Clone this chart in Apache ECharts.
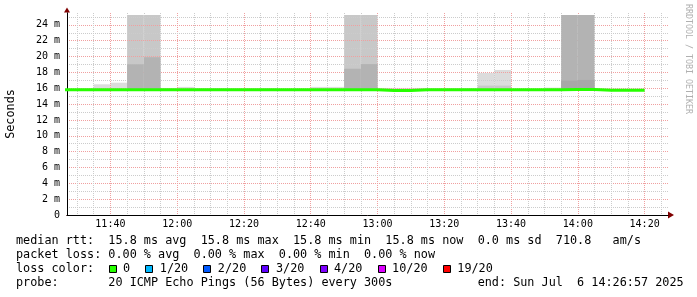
<!DOCTYPE html>
<html><head><meta charset="utf-8">
<script src="https://cdn.jsdelivr.net/npm/echarts@6/dist/echarts.min.js"></script>
<style>html,body{margin:0;padding:0;background:#fff}#c{width:697px;height:297px}</style>
</head><body><div id="c"></div>
<script>
// ---- data ----
const stepTimes = ['11:25','11:30','11:35','11:40','11:45','11:50','11:55',
  '12:00','12:05','12:10','12:15','12:20','12:25','12:30','12:35','12:40','12:45','12:50','12:55',
  '13:00','13:05','13:10','13:15','13:20','13:25','13:30','13:35','13:40','13:45','13:50','13:55',
  '14:00','14:05','14:10','14:15'];
const medianRtt = [15.8,15.8,15.8,15.8,15.8,15.8,15.8,
  15.8,15.8,15.8,15.8,15.8,15.8,15.8,15.8,15.8,15.8,15.8,15.8,
  15.72,15.72,15.8,15.8,15.8,15.8,15.8,15.8,15.8,15.8,15.8,15.85,
  15.85,15.75,15.75,15.75];
const smokeLight = [null,16.0,16.5,16.7,null,null,16.04,
  16.17,15.98,15.98,15.98,15.98,15.98,null,null,16.17,16.17,null,null,
  16.04,16.04,16.04,15.98,15.98,15.98,17.94,18.31,null,null,16.08,null,
  null,15.95,15.95,15.95];
const smokeMid = [null,null,null,null,25.25,25.25,null,
  null,null,null,null,null,null,null,null,null,null,25.25,25.25,
  null,null,null,null,null,null,16.33,16.33,null,null,null,null,
  null,null,null,null];
const smokeDark = [null,null,null,null,19.03,19.92,null,
  null,null,null,null,null,null,null,null,null,null,18.46,19.05,
  null,null,null,null,null,null,null,null,null,null,null,25.25,
  25.25,null,null,null];
const smokeDarkest = [null,null,null,null,null,null,null,
  null,null,null,null,null,null,null,null,null,null,null,null,
  null,null,null,null,null,null,null,null,null,null,null,16.96,
  17.05,null,null,null];
const smokeBase = 15.7;
const stepMinutes = 5;
const axisStart = '11:27', axisEnd = '14:27', dataEnd = '14:20', catStart = '11:25';
const xTickLabels = ['11:40','12:00','12:20','12:40','13:00','13:20','13:40','14:00','14:20'];
const yTickLabels = ['0','2 m','4 m','6 m','8 m','10 m','12 m','14 m','16 m','18 m','20 m','22 m','24 m'];
const yMax = 25.5;
const legendRtt = 'median rtt:  15.8 ms avg  15.8 ms max  15.8 ms min  15.8 ms now  0.0 ms sd  710.8   am/s';
const legendLoss = 'packet loss: 0.00 % avg  0.00 % max  0.00 % min  0.00 % now';
const legendColorTitle = 'loss color:';
const lossLabels = ['0','1/20','2/20','3/20','4/20','10/20','19/20'];
const lossColors = ['#26ff00','#00b8ff','#0059ff','#5e00ff','#7e00ff','#dd00ff','#ff0000'];
const legendProbe = 'probe:       20 ICMP Echo Pings (56 Bytes) every 300s            end: Sun Jul  6 14:26:57 2025';
const watermark = 'RRDTOOL / TOBI OETIKER';

// ---- helpers ----
const toMin = s => { const [h,m] = s.split(':').map(Number); return h*60+m; };
const fmt = m => String(Math.floor(m/60)).padStart(2,'0') + ':' + String(m%60).padStart(2,'0');
const cats = [];
for (let m = toMin(catStart); m <= toMin(axisEnd); m++) cats.push(fmt(m));
const ci = s => cats.indexOf(s);

const MONO = 'DejaVu Sans Mono';
const CW = 7.12;

function smokeSeries(tops, color, z) {
  const data = [];
  stepTimes.forEach((t, i) => { if (tops[i] != null) data.push([ci(t), smokeBase, tops[i]]); });
  return {
    type: 'custom', silent: true, clip: true, z: z, animation: false,
    renderItem: function (params, api) {
      const x0 = api.value(0);
      const a = api.coord([x0, api.value(2)]);
      const b = api.coord([x0 + stepMinutes, api.value(1)]);
      return { type: 'rect', shape: { x: a[0], y: a[1], width: b[0]-a[0], height: b[1]-a[1] },
               style: { fill: color } };
    },
    encode: { x: 0, y: [1, 2] },
    data: data
  };
}

const lineData = stepTimes.map((t, i) => [t, medianRtt[i]]);
lineData.push([dataEnd, medianRtt[medianRtt.length-1]]);

// legend graphics
const graphics = [];
const lineY = [241, 255, 269, 283];
const txt = (x, y, s, extra) => Object.assign({ type: 'text', x: x, y: y,
  style: { text: s, fill: '#000', font: '11.8px "' + MONO + '"', textVerticalAlign: 'middle', textAlign: 'left' } }, extra || {});
graphics.push(txt(16, lineY[0], legendRtt));
graphics.push(txt(16, lineY[1], legendLoss));
graphics.push(txt(16, lineY[2], legendColorTitle));
graphics.push(txt(16, lineY[3], legendProbe));
let bx = 16 + 13*CW;
lossLabels.forEach((lab, i) => {
  graphics.push({ type: 'rect', shape: { x: Math.round(bx) + 0.5, y: 265.5, width: 7, height: 7 },
    style: { fill: lossColors[i], stroke: '#000', lineWidth: 1 } });
  const tx = bx + 15;
  graphics.push(txt(tx - 0.5, lineY[2], lab));
  bx = tx + lab.length*CW + 14.6;
});
graphics.push({ type: 'text', x: 688, y: 59, rotation: -Math.PI/2,
  style: { text: watermark, fill: '#b0b0b0', font: '8.3px "' + MONO + '"', textAlign: 'center', textVerticalAlign: 'middle' } });

const xCommon = { type: 'category', data: cats, boundaryGap: false, min: ci(axisStart), max: ci(axisEnd), position: 'bottom' };

const option = {
  animation: false,
  backgroundColor: '#ffffff',
  grid: { left: 67, right: 29, top: 13, bottom: 82, containLabel: false, outerBoundsMode: 'none' },
  xAxis: [
    Object.assign({}, xCommon, { z: 3,
      axisLine: { show: true, lineStyle: { color: '#000', width: 1 } },
      axisTick: { show: false },
      axisLabel: { interval: (i, v) => xTickLabels.includes(v), color: '#000', fontFamily: MONO, fontSize: 10, margin: 4 },
      splitLine: { show: true, interval: (i, v) => (toMin(v) % 5 === 0 && toMin(v) % 20 !== 0),
        lineStyle: { color: '#cccccc', type: [1, 1], width: 1 } } }),
    Object.assign({}, xCommon, { z: 2,
      axisLine: { show: true, symbol: ['none', 'triangle'], symbolSize: [7, 6], symbolOffset: [0, 3],
        lineStyle: { color: '#800000', width: 1 } },
      axisTick: { show: false }, axisLabel: { show: false },
      splitLine: { show: true, interval: (i, v) => toMin(v) % 20 === 0,
        lineStyle: { color: '#f0a0a0', type: [1, 1], width: 1 } } })
  ],
  yAxis: [
    { type: 'value', min: 0, max: yMax, interval: 2, z: 3,
      name: 'Seconds', nameLocation: 'middle', nameGap: 50, nameRotate: 90,
      nameTextStyle: { fontFamily: MONO, fontSize: 11.8, color: '#000' },
      axisLine: { show: true, lineStyle: { color: '#000', width: 1 } },
      axisTick: { show: false },
      axisLabel: { color: '#000', fontFamily: MONO, fontSize: 10, margin: 7, showMaxLabel: false,
        formatter: v => (Number.isInteger(v) && v % 2 === 0 && yTickLabels[v/2] !== undefined) ? yTickLabels[v/2] : '' },
      splitLine: { show: true, showMaxLine: false, lineStyle: { color: '#f0a0a0', type: [1, 1], width: 1 } },
      minorTick: { show: false, splitNumber: 2 },
      minorSplitLine: { show: true, lineStyle: { color: '#cccccc', type: [1, 1], width: 1 } } },
    { type: 'value', min: 0, max: yMax, interval: 2, z: 2, position: 'left',
      axisLine: { show: true, symbol: ['none', 'triangle'], symbolSize: [6, 5], symbolOffset: [0, 3],
        lineStyle: { color: '#800000', width: 1 } },
      axisTick: { show: false }, axisLabel: { show: false }, splitLine: { show: false } }
  ],
  series: [
    smokeSeries(smokeLight, '#dcdcdc', 1),
    smokeSeries(smokeMid, '#c8c8c8', 2),
    smokeSeries(smokeDark, '#b3b3b3', 3),
    smokeSeries(smokeDarkest, '#a8a8a8', 4),
    { type: 'line', step: 'end', data: lineData, symbol: 'none', clip: true, z: 6, silent: true,
      lineStyle: { color: '#26ff00', width: 3 } }
  ],
  graphic: graphics
};

const chart = echarts.init(document.getElementById('c'), null, { renderer: 'canvas' });
chart.setOption(option);
</script>
</body></html>
